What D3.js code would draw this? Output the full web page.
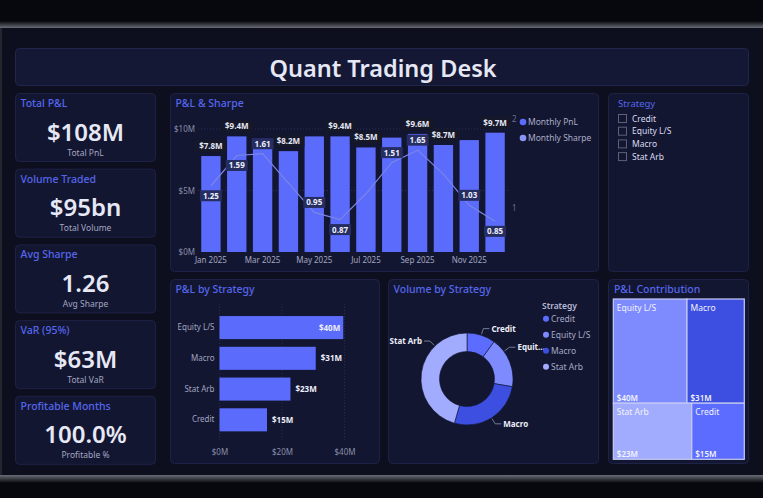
<!DOCTYPE html>
<html>
<head>
<meta charset="utf-8">
<script src="https://cdn.jsdelivr.net/npm/d3@7"></script>
<style>
  html, body { margin: 0; padding: 0; background: #07080d; }
  svg { display: block; font-family: "Segoe UI", "Noto Sans", "Open Sans", sans-serif; }
</style>
</head>
<body>
<svg id="dash" width="763" height="498"></svg>
<script>
// данные
const months = ["Jan 2025", "Feb 2025", "Mar 2025", "Apr 2025", "May 2025", "Jun 2025",
                "Jul 2025", "Aug 2025", "Sep 2025", "Oct 2025", "Nov 2025", "Dec 2025"];
const monthlyPnl = [7.8, 9.4, 9.2, 8.2, 9.4, 9.4, 8.5, 9.3, 9.6, 8.7, 9.1, 9.7];
const monthlySharpe = [1.25, 1.59, 1.61, 1.28, 0.95, 0.87, 1.16, 1.51, 1.65, 1.38, 1.03, 0.85];

const strategies = ["Credit", "Equity L/S", "Macro", "Stat Arb"];
const strategyPnl = [15.2, 39.6, 30.8, 22.7];
const strategyVolume = [9.5, 16.8, 25.4, 43.3];

const kpiTitles = ["Total P&L", "Volume Traded", "Avg Sharpe", "VaR (95%)", "Profitable Months"];
const kpiValues = ["$108M", "$95bn", "1.26", "$63M", "100.0%"];
const kpiSubs = ["Total PnL", "Total Volume", "Avg Sharpe", "Total VaR", "Profitable %"];

const pnlTicks = [0, 5, 10];
const sharpeTicks = [1, 2];
const barTicks = [0, 20, 40];

// какие подписи видны (остальные скрыты из-за наложения)
const pnlLabelShown = [0, 1, 3, 5, 6, 8, 9, 11];
const sharpeLabelBelow = [0, 1, 5, 11];
const sharpeLabelShown = [0, 1, 2, 4, 5, 7, 8, 10, 11];
const donutLabelAt = [0.5, 0.27, 0.5, 0.73];

const cBg = "#0d0f1f", cCard = "#131630", cBorder = "#1e2246";
const cTitle = "#5566ee", cText = "#e6e8f6", cSub = "#a3a7c4", cAxis = "#8a8eaa";
const cBar = "#5b6bfb", cLine = "#7b86e6";
const stratColor = d3.scaleOrdinal().domain(strategies)
  .range(["#5c6cff", "#7e8bff", "#3d4fe0", "#a2acff"]);
const fmtM = d => "$" + Math.round(d) + "M";

const svg = d3.select("#dash");

// фон дашборда
const defs = svg.append("defs");
const gTop = defs.append("linearGradient").attr("id", "gTop").attr("x1", 0).attr("x2", 0).attr("y1", 0).attr("y2", 1);
gTop.append("stop").attr("offset", 0).attr("stop-color", "#07080d");
gTop.append("stop").attr("offset", 1).attr("stop-color", "#6a6c76");
const gBot = defs.append("linearGradient").attr("id", "gBot").attr("x1", 0).attr("x2", 0).attr("y1", 0).attr("y2", 1);
gBot.append("stop").attr("offset", 0).attr("stop-color", "#6a6c76");
gBot.append("stop").attr("offset", 1).attr("stop-color", "#07080d");

svg.append("rect").attr("x", 0).attr("y", 28).attr("width", 763).attr("height", 447).attr("fill", cBg);
svg.append("rect").attr("x", 0).attr("y", 21).attr("width", 763).attr("height", 7).attr("fill", "url(#gTop)");
svg.append("rect").attr("x", 0).attr("y", 475).attr("width", 763).attr("height", 8).attr("fill", "url(#gBot)");
svg.append("rect").attr("x", 0).attr("y", 28).attr("width", 2).attr("height", 447).attr("fill", "#23252f");

function card(x, y, w, h) {
  svg.append("rect").attr("x", x).attr("y", y).attr("width", w).attr("height", h)
    .attr("rx", 4).attr("fill", cCard).attr("stroke", cBorder).attr("stroke-width", 1);
}
function cardTitle(x, y, t) {
  svg.append("text").attr("x", x).attr("y", y).attr("fill", cTitle)
    .attr("font-size", 10.5).attr("font-weight", 500).text(t);
}
function styleAxis(a, color) {
  a.attr("font-family", null).attr("font-size", null);
  a.select(".domain").remove();
  a.selectAll("text").attr("fill", color).attr("font-size", 8);
}

// заголовок
svg.append("rect").attr("x", 15.5).attr("y", 48.5).attr("width", 733).attr("height", 37)
  .attr("rx", 4).attr("fill", "#141834").attr("stroke", "#21264c");
svg.append("text").attr("x", 383).attr("y", 77).attr("text-anchor", "middle")
  .attr("fill", cText).attr("font-size", 23.5).attr("font-weight", 600).text("Quant Trading Desk");

// KPI карточки
kpiTitles.forEach((t, i) => {
  const y = 93.5 + i * 75.7;
  card(15.5, y, 140, 68);
  cardTitle(20.5, y + 13.5, t);
  svg.append("text").attr("x", 85.5).attr("y", y + 47).attr("text-anchor", "middle")
    .attr("fill", cText).attr("font-size", 24).attr("font-weight", 600).text(kpiValues[i]);
  svg.append("text").attr("x", 85.5).attr("y", y + 62).attr("text-anchor", "middle")
    .attr("fill", cSub).attr("font-size", 8.5).text(kpiSubs[i]);
});

// P&L & Sharpe
card(170.5, 93.5, 428, 178);
cardTitle(175.5, 106.5, "P&L & Sharpe");

const x = d3.scaleBand().domain(months).range([198, 508]).paddingInner(0.25).paddingOuter(0.125);
const y = d3.scaleLinear().domain([0, 10]).range([252, 129]);
const y2 = d3.scaleLinear().domain([1, 2]).range([208, 119]);

const chart = svg.append("g");

chart.selectAll(".grid").data(pnlTicks.slice(1)).join("line")
  .attr("x1", 198).attr("x2", 508).attr("y1", d => y(d)).attr("y2", d => y(d))
  .attr("stroke", "#2b2f55").attr("stroke-dasharray", "1,2");

const axL = chart.append("g").attr("transform", "translate(198,0)")
  .call(d3.axisLeft(y).tickValues(pnlTicks).tickFormat(d => "$" + d + "M").tickSize(0).tickPadding(3));
const axB = chart.append("g").attr("transform", "translate(0,254)")
  .call(d3.axisBottom(x).tickValues(months.filter((d, i) => i % 2 === 0))
    .tickFormat(d => d).tickSize(0).tickPadding(3));
const axR = chart.append("g").attr("transform", "translate(510,0)")
  .call(d3.axisRight(y2).tickValues(sharpeTicks).tickFormat(d3.format("d")).tickSize(0).tickPadding(2));
styleAxis(axL, cAxis);
styleAxis(axB, "#a2a6c2");
styleAxis(axR, "#6c7090");

chart.selectAll(".bar").data(monthlyPnl).join("rect")
  .attr("x", (d, i) => x(months[i])).attr("width", x.bandwidth())
  .attr("y", d => y(d)).attr("height", d => y(0) - y(d)).attr("fill", cBar);

const line = d3.line().x((d, i) => x(months[i]) + x.bandwidth() / 2).y(d => y2(d));
chart.append("path").datum(monthlySharpe).attr("d", line)
  .attr("fill", "none").attr("stroke", cLine).attr("stroke-width", 1.2);

// подписи
pnlLabelShown.forEach(i => {
  const cx = x(months[i]) + x.bandwidth() / 2, cy = y(monthlyPnl[i]) - 10;
  chart.append("rect").attr("x", cx - 16).attr("y", cy - 6).attr("width", 32).attr("height", 12)
    .attr("fill", "#151829");
  chart.append("text").attr("x", cx).attr("y", cy + 3).attr("text-anchor", "middle")
    .attr("fill", "#e4e6f4").attr("font-size", 8).attr("font-weight", 700)
    .text("$" + monthlyPnl[i].toFixed(1) + "M");
});
sharpeLabelShown.forEach(i => {
  const cx = x(months[i]) + x.bandwidth() / 2;
  const cy = y2(monthlySharpe[i]) + (sharpeLabelBelow.includes(i) ? 10 : -10);
  chart.append("rect").attr("x", cx - 11).attr("y", cy - 5.5).attr("width", 22).attr("height", 11)
    .attr("fill", "#262d62");
  chart.append("text").attr("x", cx).attr("y", cy + 3).attr("text-anchor", "middle")
    .attr("fill", "#eef0fa").attr("font-size", 8).attr("font-weight", 700)
    .text(monthlySharpe[i].toFixed(2));
});

// легенда
[["Monthly PnL", cBar], ["Monthly Sharpe", "#8a94f6"]].forEach((l, i) => {
  chart.append("circle").attr("cx", 523).attr("cy", 122 + i * 16).attr("r", 3.3).attr("fill", l[1]);
  chart.append("text").attr("x", 528).attr("y", 125 + i * 16).attr("fill", "#a9acc8")
    .attr("font-size", 8.5).text(l[0]);
});

// слайсер
card(608.5, 93.5, 140, 178);
svg.append("text").attr("x", 618).attr("y", 107).attr("fill", cTitle).attr("font-size", 9.5).text("Strategy");
strategies.forEach((s, i) => {
  const cy = 118.5 + i * 12.7;
  svg.append("rect").attr("x", 618.5).attr("y", cy - 4).attr("width", 8).attr("height", 8)
    .attr("fill", "none").attr("stroke", "#5c6078");
  svg.append("text").attr("x", 632).attr("y", cy + 3).attr("fill", "#d9dbf0").attr("font-size", 8.5).text(s);
});

// P&L by Strategy
card(170.5, 279.5, 209, 184);
cardTitle(175.5, 293, "P&L by Strategy");
const sorted = strategies.map((s, i) => ({ s, v: strategyPnl[i] })).sort((a, b) => b.v - a.v);
const bx = d3.scaleLinear().domain([0, 40]).range([219.5, 344.5]);
const by = d3.scaleBand().domain(sorted.map(d => d.s)).range([312.2, 435.2]).paddingInner(0.25).paddingOuter(0.125);

svg.selectAll(".bgrid").data(barTicks).join("line")
  .attr("x1", d => bx(d)).attr("x2", d => bx(d)).attr("y1", 304).attr("y2", 440)
  .attr("stroke", "#262a4c").attr("stroke-dasharray", "1,2");
const bAx = svg.append("g").attr("transform", "translate(0,447)")
  .call(d3.axisBottom(bx).tickValues(barTicks).tickFormat(fmtM).tickSize(0).tickPadding(2));
const bAy = svg.append("g").attr("transform", "translate(219.5,0)")
  .call(d3.axisLeft(by).tickSize(0).tickPadding(5));
styleAxis(bAx, cAxis);
styleAxis(bAy, "#a0a4c0");
svg.selectAll(".sbar").data(sorted).join("rect")
  .attr("x", bx(0)).attr("y", d => by(d.s)).attr("height", by.bandwidth())
  .attr("width", d => bx(d.v) - bx(0)).attr("fill", cBar);
svg.selectAll(".slab").data(sorted).join("text")
  .attr("x", d => d.v > 35 ? bx(d.v) - 3 : bx(d.v) + 5)
  .attr("text-anchor", d => d.v > 35 ? "end" : "start")
  .attr("y", d => by(d.s) + by.bandwidth() / 2 + 3)
  .attr("fill", "#eceefa").attr("font-size", 8).attr("font-weight", 700)
  .text(d => fmtM(d.v));

// Volume by Strategy
card(388.5, 279.5, 210, 184);
cardTitle(393.5, 293, "Volume by Strategy");
const cx0 = 467, cy0 = 379, rOut = 46, rIn = 27.5;
const pie = d3.pie().sort(null).value(d => d)(strategyVolume);
const arc = d3.arc().innerRadius(rIn).outerRadius(rOut);
const dg = svg.append("g").attr("transform", `translate(${cx0},${cy0})`);
dg.selectAll("path").data(pie).join("path").attr("d", arc)
  .attr("fill", (d, i) => stratColor(strategies[i])).attr("stroke", cCard).attr("stroke-width", 0.6);
pie.forEach((p, i) => {
  const a = p.startAngle + (p.endAngle - p.startAngle) * donutLabelAt[i];
  const sx = Math.sin(a), sy = -Math.cos(a);
  const p1 = [sx * (rOut + 1), sy * (rOut + 1)], p2 = [sx * (rOut + 7), sy * (rOut + 7)];
  const right = sx >= 0;
  const p3 = [p2[0] + (right ? 6 : -6), p2[1]];
  dg.append("polyline").attr("points", [p1, p2, p3].map(q => q.join(",")).join(" "))
    .attr("fill", "none").attr("stroke", "#8e92ab").attr("stroke-width", 0.8);
  const name = strategies[i] === "Equity L/S" ? "Equit..." : strategies[i];
  dg.append("text").attr("x", p3[0] + (right ? 2 : -2)).attr("y", p3[1] + 3)
    .attr("text-anchor", right ? "start" : "end").attr("fill", "#eceefa")
    .attr("font-size", 8).attr("font-weight", 700).text(name);
});
svg.append("text").attr("x", 542).attr("y", 309).attr("fill", "#b6b9d6")
  .attr("font-size", 8.5).attr("font-weight", 600).text("Strategy");
strategies.forEach((s, i) => {
  const cy = 318.7 + i * 16;
  svg.append("circle").attr("cx", 546).attr("cy", cy).attr("r", 3).attr("fill", stratColor(s));
  svg.append("text").attr("x", 551).attr("y", cy + 3).attr("fill", "#a6a9c6").attr("font-size", 8.5).text(s);
});

// P&L Contribution
card(608.5, 279.5, 140, 184);
cardTitle(614, 293, "P&L Contribution");
const root = d3.hierarchy({ children: strategies.map((s, i) => ({ s, v: strategyPnl[i] })) })
  .sum(d => d.v || 0).sort((a, b) => b.value - a.value);
d3.treemap().size([131, 160.3]).tile(d3.treemapSquarify)(root);
const tg = svg.append("g").attr("transform", "translate(613.3,299)");
const leaf = tg.selectAll("g").data(root.leaves()).join("g");
leaf.append("rect").attr("x", d => d.x0).attr("y", d => d.y0)
  .attr("width", d => d.x1 - d.x0).attr("height", d => d.y1 - d.y0)
  .attr("fill", d => stratColor(d.data.s)).attr("stroke", "#c6cbf3").attr("stroke-width", 1.2);
leaf.append("text").attr("x", d => d.x0 + 3.5).attr("y", d => d.y0 + 12)
  .attr("fill", "#f2f3fb").attr("font-size", 8.5).text(d => d.data.s);
leaf.append("text").attr("x", d => d.x0 + 3.5).attr("y", d => d.y1 - 2.5)
  .attr("fill", "#f2f3fb").attr("font-size", 8).attr("font-weight", 600).text(d => fmtM(d.data.v));
</script>
</body>
</html>
